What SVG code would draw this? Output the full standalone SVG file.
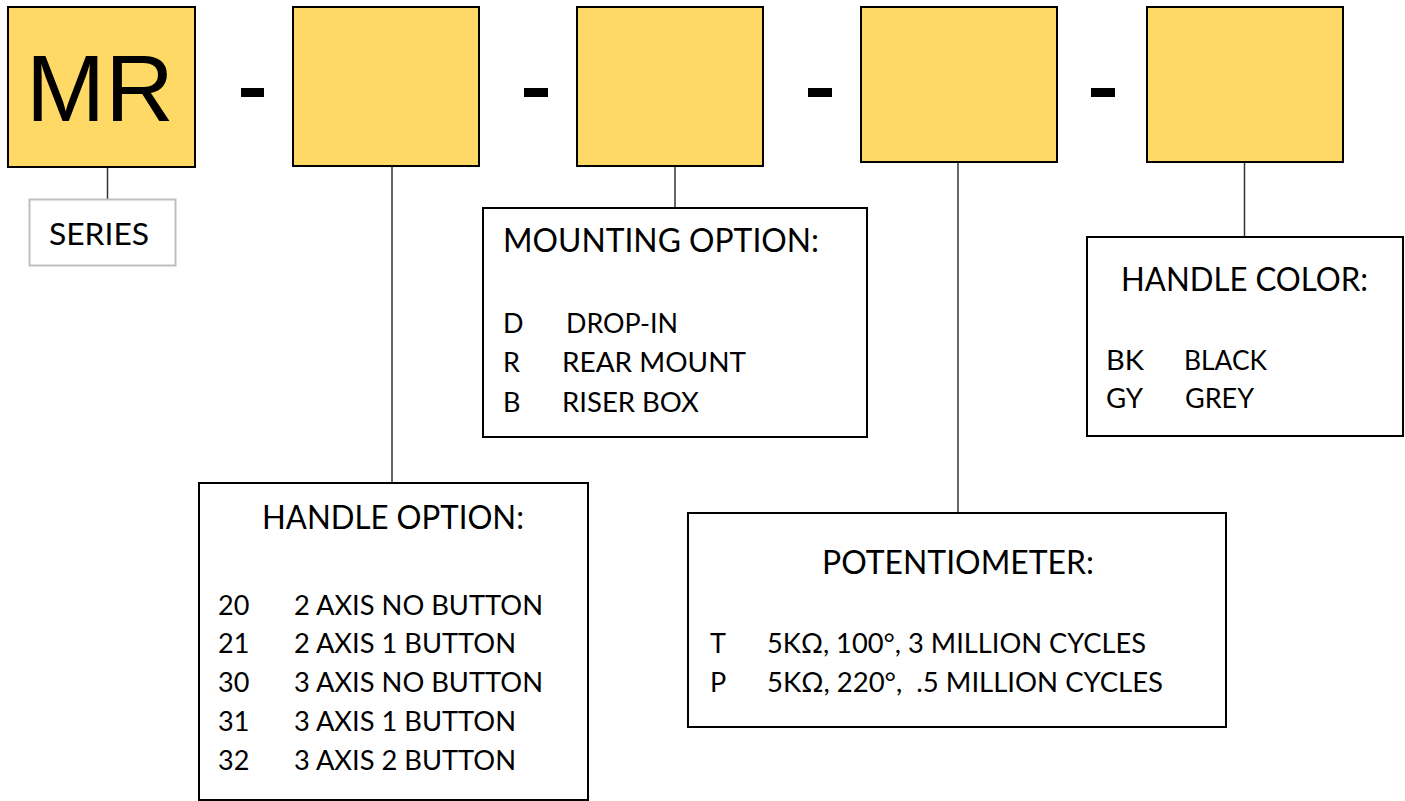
<svg xmlns="http://www.w3.org/2000/svg" width="1405" height="801" viewBox="0 0 1405 801">
<style>
.code{fill:#FFD966;stroke:#000;stroke-width:2}
.info{fill:#fff;stroke:#000;stroke-width:2}
.dash{fill:#000}
.conn{stroke:#333;stroke-width:1.5;fill:none}
.t{font-family:Lato,"Open Sans","Liberation Sans",sans-serif;fill:#000}
.title{font-size:33px}
.item{font-size:27px}
.mr{font-family:"Liberation Sans",Arial,sans-serif;font-size:95px;fill:#000}
</style>
<rect width="1405" height="801" fill="#fff"/>
<g id="connectors">
<line class="conn" x1="107.5" y1="167" x2="107.5" y2="199"/>
<line class="conn" x1="392" y1="166" x2="392" y2="483"/>
<line class="conn" x1="675" y1="166" x2="675" y2="208"/>
<line class="conn" x1="958" y1="162" x2="958" y2="513"/>
<line class="conn" x1="1244.5" y1="162" x2="1244.5" y2="237"/>
</g>
<g id="mr">
<rect class="code" x="8" y="7" width="187" height="160"/>
<text class="mr" x="26" y="121">MR</text>
</g>
<g id="dashes">
<rect class="dash" x="241" y="88" width="23" height="9"/>
<rect class="dash" x="524" y="88" width="24" height="9"/>
<rect class="dash" x="808" y="88" width="24" height="9"/>
<rect class="dash" x="1091" y="88" width="24" height="9"/>
</g>
<g id="box2"><rect class="code" x="293" y="7" width="186" height="159"/></g>
<g id="box3"><rect class="code" x="577" y="7" width="186" height="159"/></g>
<g id="box4"><rect class="code" x="861" y="7" width="196" height="155"/></g>
<g id="box5"><rect class="code" x="1147" y="7" width="196" height="155"/></g>
<g id="series">
<rect x="29.5" y="199.5" width="146" height="66" fill="#fff" stroke="#bfbfbf" stroke-width="2"/>
<text class="t" x="49" y="245" font-size="30" textLength="100" lengthAdjust="spacingAndGlyphs">SERIES</text>
</g>
<g id="mounting">
<rect class="info" x="483" y="208" width="384" height="229"/>
<text class="t title" x="503" y="252" textLength="316" lengthAdjust="spacingAndGlyphs">MOUNTING OPTION:</text>
<text class="t item" x="503" y="333">D</text>
<text class="t item" x="566" y="333" textLength="112" lengthAdjust="spacingAndGlyphs">DROP-IN</text>
<text class="t item" x="503" y="372">R</text>
<text class="t item" x="562" y="372" textLength="184" lengthAdjust="spacingAndGlyphs">REAR MOUNT</text>
<text class="t item" x="503" y="412">B</text>
<text class="t item" x="562" y="412" textLength="137" lengthAdjust="spacingAndGlyphs">RISER BOX</text>
</g>
<g id="handle-color">
<rect class="info" x="1087" y="237" width="316" height="199"/>
<text class="t title" x="1121" y="291" textLength="247" lengthAdjust="spacingAndGlyphs">HANDLE COLOR:</text>
<text class="t item" x="1106" y="370" textLength="38" lengthAdjust="spacingAndGlyphs">BK</text>
<text class="t item" x="1184" y="370" textLength="83" lengthAdjust="spacingAndGlyphs">BLACK</text>
<text class="t item" x="1106" y="408" textLength="37" lengthAdjust="spacingAndGlyphs">GY</text>
<text class="t item" x="1185" y="408" textLength="69" lengthAdjust="spacingAndGlyphs">GREY</text>
</g>
<g id="handle-option">
<rect class="info" x="199" y="483" width="389" height="317"/>
<text class="t title" x="262" y="529" textLength="262" lengthAdjust="spacingAndGlyphs">HANDLE OPTION:</text>
<text class="t item" x="218" y="615">20</text>
<text class="t item" x="294" y="615" textLength="249" lengthAdjust="spacingAndGlyphs">2 AXIS NO BUTTON</text>
<text class="t item" x="218" y="653">21</text>
<text class="t item" x="294" y="653" textLength="222" lengthAdjust="spacingAndGlyphs">2 AXIS 1 BUTTON</text>
<text class="t item" x="218" y="692">30</text>
<text class="t item" x="294" y="692" textLength="249" lengthAdjust="spacingAndGlyphs">3 AXIS NO BUTTON</text>
<text class="t item" x="218" y="731">31</text>
<text class="t item" x="294" y="731" textLength="222" lengthAdjust="spacingAndGlyphs">3 AXIS 1 BUTTON</text>
<text class="t item" x="218" y="770">32</text>
<text class="t item" x="294" y="770" textLength="222" lengthAdjust="spacingAndGlyphs">3 AXIS 2 BUTTON</text>
</g>
<g id="potentiometer">
<rect class="info" x="688" y="513" width="538" height="214"/>
<text class="t title" x="822" y="574" textLength="272" lengthAdjust="spacingAndGlyphs">POTENTIOMETER:</text>
<text class="t item" x="710" y="653">T</text>
<text class="t item" x="767" y="653" textLength="379" lengthAdjust="spacingAndGlyphs">5KΩ, 100°, 3 MILLION CYCLES</text>
<text class="t item" x="710" y="692">P</text>
<text class="t item" x="767" y="692" textLength="396" lengthAdjust="spacingAndGlyphs">5KΩ, 220°, &#160;.5 MILLION CYCLES</text>
</g>
</svg>
